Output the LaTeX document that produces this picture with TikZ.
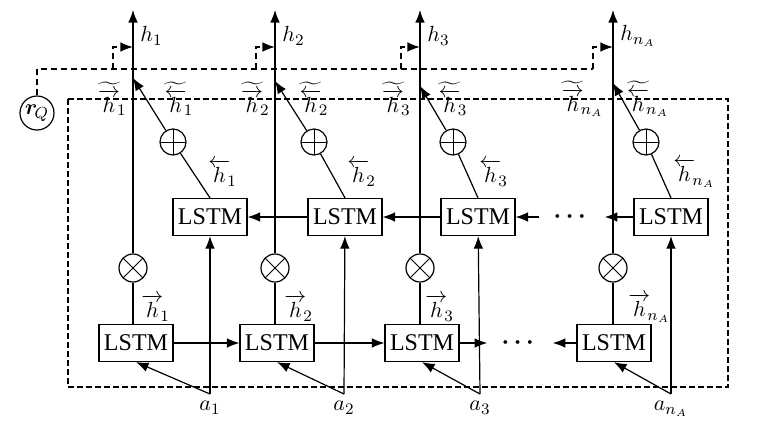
\documentclass[tikz,border=0pt]{standalone}
\usepackage{amsmath}
\usepackage{fontspec}
\setmainfont{Liberation Serif}
\usetikzlibrary{arrows.meta}
\tikzset{
  arr/.style={-{Latex[length=2.2mm,width=1.7mm]}, semithick},
  carr/.style={-{Latex[length=2.2mm,width=1.7mm]}, thick, dash pattern=on 3pt off 2pt},
  ctx/.style={thick, dash pattern=on 3pt off 2pt},
  encbox/.style={semithick, dash pattern=on 3pt off 1.5pt},
  blk/.style={draw, semithick, font=\large, minimum width=37pt, minimum height=18.5pt, inner sep=0pt},
  mulop/.style={draw, circle, semithick, minimum size=14pt, inner sep=0pt,
    path picture={\draw[thin] (path picture bounding box.north west) -- (path picture bounding box.south east)
      (path picture bounding box.north east) -- (path picture bounding box.south west);}},
  addop/.style={draw, circle, semithick, minimum size=13pt, inner sep=0pt,
    path picture={\draw[thin] (path picture bounding box.north) -- (path picture bounding box.south)
      (path picture bounding box.west) -- (path picture bounding box.east);}},
  ellip/.style={font=\large\boldmath, inner xsep=7pt, inner ysep=0pt},
  lab/.style={inner sep=0.5pt, font=\fontsize{11pt}{13pt}\selectfont}
}

\begin{document}
\begin{tikzpicture}[x=0.5pt, y=-0.5pt]
\useasboundingbox (0,0) rectangle (765,446);
% encoder box and question vector
\draw[encbox] (68,99) rectangle (728,387);
\node[draw, circle, semithick, minimum size=17pt, inner sep=0pt, font=\fontsize{11pt}{13pt}\selectfont] (rq) at (37,113) {$\boldsymbol{r}_{\!Q}$};

% column 1
\node[blk] (fw1) at (136,343) {LSTM};
\node[blk] (bw1) at (210,217) {LSTM};
\node[mulop] (mul1) at (133,268) {};
\node[addop] (add1) at (173,142) {};
\coordinate (a1) at (210,394);
\coordinate (out1) at (133,10);
\coordinate (mrg1) at (133,78);
\coordinate (k1) at (113,69);
\coordinate (in1) at (133,47);
\node[lab, anchor=west] (ho1) at (139,36) {$h_1$};
\node[lab, anchor=east] (tf1) at (128,99) {$\widetilde{\overrightarrow{h}}_{\!1}$};
\node[lab] (tb1) at (179,99) {$\widetilde{\overleftarrow{h}}_{\!1}$};
\node[lab, anchor=west] (hb1) at (207,173) {$\overleftarrow{h}_{\!1}$};
\node[lab, anchor=west] (hf1) at (140,308) {$\overrightarrow{h}_{\!1}$};
\node[lab, anchor=north] (la1) at (210,400) {$a_1$};

% column 2
\node[blk] (fw2) at (277,343) {LSTM};
\node[blk] (bw2) at (345,217) {LSTM};
\node[mulop] (mul2) at (275,268) {};
\node[addop] (add2) at (314,142) {};
\coordinate (a2) at (344,394);
\coordinate (out2) at (275,10);
\coordinate (mrg2) at (275,81);
\coordinate (k2) at (256,69);
\coordinate (in2) at (275,47);
\node[lab, anchor=west] (ho2) at (281,36) {$h_2$};
\node[lab, anchor=east] (tf2) at (271,99) {$\widetilde{\overrightarrow{h}}_{\!2}$};
\node[lab] (tb2) at (314,99) {$\widetilde{\overleftarrow{h}}_{\!2}$};
\node[lab, anchor=west] (hb2) at (346,173) {$\overleftarrow{h}_{\!2}$};
\node[lab, anchor=west] (hf2) at (283,308) {$\overrightarrow{h}_{\!2}$};
\node[lab, anchor=north] (la2) at (344,400) {$a_2$};

% column 3
\node[blk] (fw3) at (422,343) {LSTM};
\node[blk] (bw3) at (478,217) {LSTM};
\node[mulop] (mul3) at (420,268) {};
\node[addop] (add3) at (453,142) {};
\coordinate (a3) at (480,394);
\coordinate (out3) at (420,10);
\coordinate (mrg3) at (420,86);
\coordinate (k3) at (401,69);
\coordinate (in3) at (420,47);
\node[lab, anchor=west] (ho3) at (426,36) {$h_3$};
\node[lab, anchor=east] (tf3) at (412,99) {$\widetilde{\overrightarrow{h}}_{\!3}$};
\node[lab] (tb3) at (453,99) {$\widetilde{\overleftarrow{h}}_{\!3}$};
\node[lab, anchor=west] (hb3) at (478,173) {$\overleftarrow{h}_{\!3}$};
\node[lab, anchor=west] (hf3) at (424,308) {$\overrightarrow{h}_{\!3}$};
\node[lab, anchor=north] (la3) at (480,400) {$a_3$};

% column n_A
\node[blk] (fw4) at (614,343) {LSTM};
\node[blk] (bw4) at (671,217) {LSTM};
\node[mulop] (mul4) at (613,268) {};
\node[addop] (add4) at (646,142) {};
\coordinate (a4) at (671,394);
\coordinate (out4) at (613,10);
\coordinate (mrg4) at (613,83);
\coordinate (k4) at (593,69);
\coordinate (in4) at (613,47);
\node[lab, anchor=west] (ho4) at (619,36) {$h_{n_A}$};
\node[lab, anchor=east] (tf4) at (605,99) {$\widetilde{\overrightarrow{h}}_{\!n_A}$};
\node[lab] (tb4) at (648,99) {$\widetilde{\overleftarrow{h}}_{\!n_A}$};
\node[lab, anchor=west] (hb4) at (672,173) {$\overleftarrow{h}_{\!n_A}$};
\node[lab, anchor=west] (hf4) at (627,308) {$\overrightarrow{h}_{\!n_A}$};
\node[lab, anchor=north] (la4) at (671,400) {$a_{n_A}$};

\node[ellip] (dotf) at (520,343) {$\cdots$};
\node[ellip] (dotb) at (572,217) {$\cdots$};

% forward and backward chains
\draw[arr] (fw1) -- (fw2);
\draw[arr] (fw2) -- (fw3);
\draw[arr] (fw3) -- (dotf);
\draw[arr] (fw4) -- (dotf);
\draw[arr] (bw2) -- (bw1);
\draw[arr] (bw3) -- (bw2);
\draw[arr] (dotb) -- (bw3);
\draw[arr] (bw4) -- (dotb);

% inputs, gates and outputs
\draw[arr] (fw1.north -| mul1) -- (mul1) -- (out1);
\draw[arr] (fw2.north -| mul2) -- (mul2) -- (out2);
\draw[arr] (fw3.north -| mul3) -- (mul3) -- (out3);
\draw[arr] (fw4.north -| mul4) -- (mul4) -- (out4);
\draw[arr] (a1) -- (bw1);
\draw[arr] (a2) -- (bw2);
\draw[arr] (a3) -- (bw3);
\draw[arr] (a4) -- (bw4);
\draw[arr] (a1) -- (fw1.south);
\draw[arr] (a2) -- (fw2.south);
\draw[arr] (a3) -- (fw3.south);
\draw[arr] (a4) -- (fw4.south);
\draw[semithick] (bw1.north) -- (add1);
\draw[semithick] (bw2.north) -- (add2);
\draw[semithick] (bw3.north) -- (add3);
\draw[semithick] (bw4.north) -- (add4);
\draw[arr] (add1) -- (mrg1);
\draw[arr] (add2) -- (mrg2);
\draw[arr] (add3) -- (mrg3);
\draw[arr] (add4) -- (mrg4);

% question vector feed
\draw[ctx] (rq.north) |- (k4);
\draw[carr] (k1) |- (in1);
\draw[carr] (k2) |- (in2);
\draw[carr] (k3) |- (in3);
\draw[carr] (k4) |- (in4);
\end{tikzpicture}
\end{document}
